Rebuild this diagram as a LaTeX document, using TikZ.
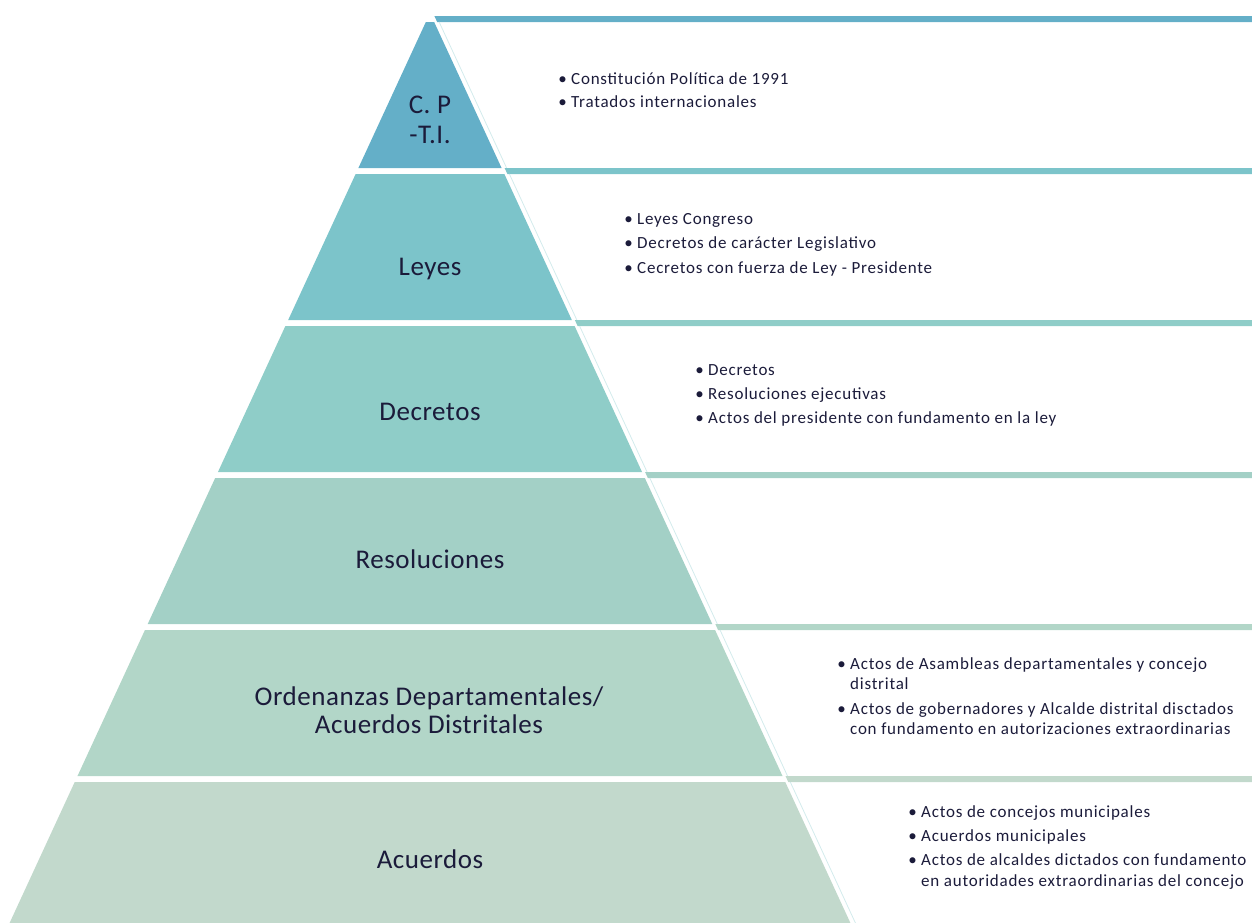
\documentclass[tikz,border=0pt]{standalone}
\usepackage{fontspec}
\setmainfont{Carlito}
\definecolor{c1}{HTML}{64AFC8}
\definecolor{c2}{HTML}{7CC4CA}
\definecolor{c3}{HTML}{8FCDC8}
\definecolor{c4}{HTML}{A3D0C6}
\definecolor{c5}{HTML}{B2D6C8}
\definecolor{c6}{HTML}{C2D9CC}
\definecolor{txtc}{HTML}{1B1B3A}
\definecolor{edgec}{HTML}{D3EBEC}
\begin{document}
\begin{tikzpicture}[x=1pt,y=-1pt,
 lvl/.style={font=\fontsize{27}{30}\selectfont\addfontfeature{LetterSpace=2}, text=txtc, anchor=base, inner sep=0},
 itm/.style={font=\fontsize{17}{20}\selectfont\addfontfeature{LetterSpace=4.5}, text=txtc, anchor=base west, inner sep=0},
 bul/.style={font=\fontsize{17}{20}\selectfont, text=txtc, anchor=base east, inner sep=0}]
\useasboundingbox (0,0) rectangle (1252,922);
\foreach \yt/\yb/\cc in {22/168/c1,174/320/c2,326/472/c3,478/624/c4,630/776/c5,782/930/c6}{
  \fill[\cc] ({430-0.462*(\yt-13)},\yt) -- ({430+0.462*(\yt-13)},\yt) -- ({430+0.462*(\yb-13)},\yb) -- ({430-0.462*(\yb-13)},\yb) -- cycle;
  \fill[\cc] ({430+0.462*(\yt-19)+3},\yt-6) -- (1260,\yt-6) -- (1260,\yt) -- ({430+0.462*(\yt-13)+3},\yt) -- cycle;
  \draw[edgec, line width=0.8] ({430+0.462*(\yt-13)+5},\yt) -- ({430+0.462*(\yb-13)+5},\yb);
}
% pyramid labels
\node[lvl] (cp1) at (430,113) {C. P};
\node[lvl] (cp2) at (430,143) {-T.I.};
\node[lvl] (leyes) at (430,275) {Leyes};
\node[lvl] (decr) at (430,420) {Decretos};
\node[lvl] (resol) at (430,568) {Resoluciones};
\node[lvl] (ord1) at (429,705) {Ordenanzas Departamentales/};
\node[lvl] (ord2) at (429,733) {Acuerdos Distritales};
\node[lvl] (acu) at (430,868) {Acuerdos};
% level 1 items
\node[bul] (b1a) at (567,84) {•};
\node[itm] (t1a) at (571,84) {Constitución Política de 1991};
\node[bul] (b1b) at (567,107) {•};
\node[itm] (t1b) at (571,107) {Tratados internacionales};
% level 2 items
\node[bul] (b2a) at (633,224) {•};
\node[itm] (t2a) at (637,224) {Leyes Congreso};
\node[bul] (b2b) at (633,248) {•};
\node[itm] (t2b) at (637,248) {Decretos de carácter Legislativo};
\node[bul] (b2c) at (633,273) {•};
\node[itm] (t2c) at (637,273) {Cecretos con fuerza de Ley - Presidente};
% level 3 items
\node[bul] (b3a) at (704,375) {•};
\node[itm] (t3a) at (708,375) {Decretos};
\node[bul] (b3b) at (704,399) {•};
\node[itm] (t3b) at (708,399) {Resoluciones ejecutivas};
\node[bul] (b3c) at (704,423) {•};
\node[itm] (t3c) at (708,423) {Actos del presidente con fundamento en la ley};
% level 5 items
\node[bul] (b5a) at (846,669) {•};
\node[itm] (t5a) at (850,669) {Actos de Asambleas departamentales y concejo};
\node[itm] (t5a2) at (850,689) {distrital};
\node[bul] (b5b) at (846,714) {•};
\node[itm] (t5b) at (850,714) {Actos de gobernadores y Alcalde distrital disctados};
\node[itm] (t5b2) at (850,734) {con fundamento en autorizaciones extraordinarias};
% level 6 items
\node[bul] (b6a) at (917,817) {•};
\node[itm] (t6a) at (921,817) {Actos de concejos municipales};
\node[bul] (b6b) at (917,841) {•};
\node[itm] (t6b) at (921,841) {Acuerdos municipales};
\node[bul] (b6c) at (917,865) {•};
\node[itm] (t6c) at (921,865) {Actos de alcaldes dictados con fundamento};
\node[itm] (t6c2) at (921,886) {en autoridades extraordinarias del concejo};
\end{tikzpicture}
\end{document}
